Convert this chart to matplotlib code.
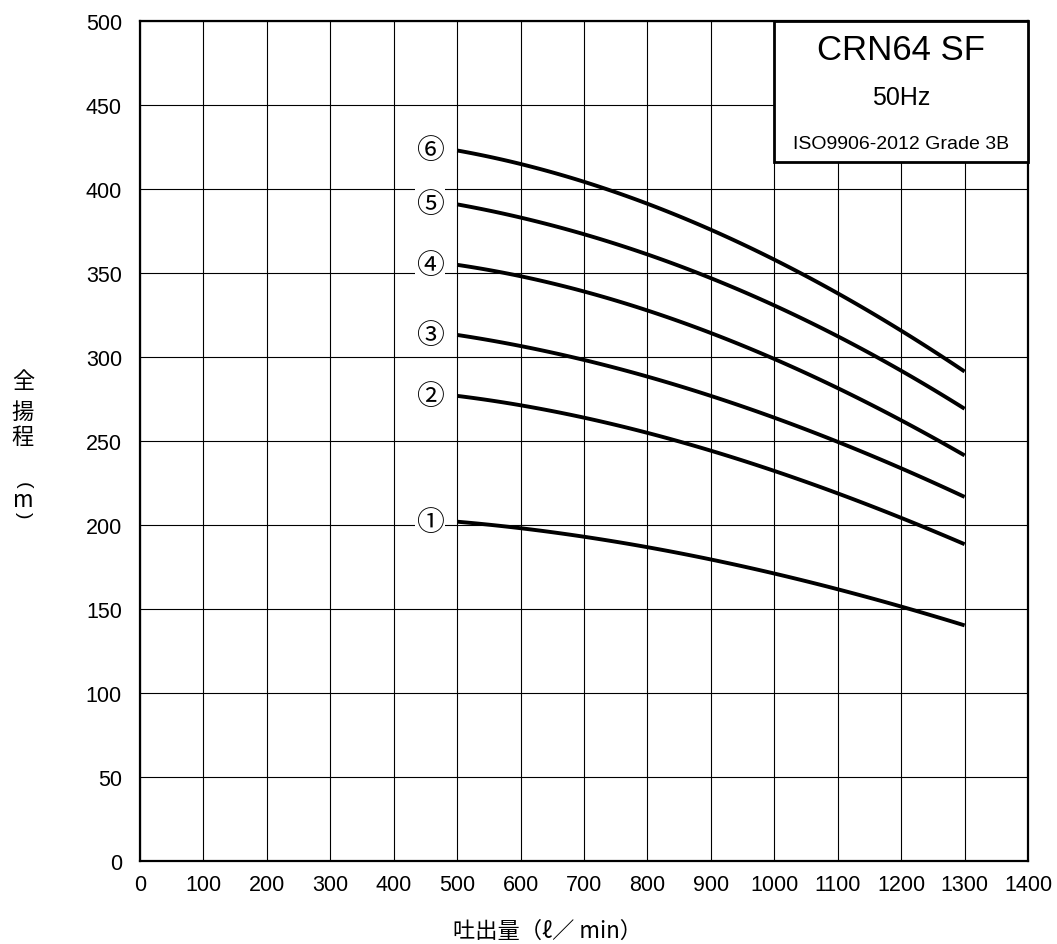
import numpy as np
import matplotlib
matplotlib.use('Agg')
import matplotlib.pyplot as plt

plt.rcParams['font.family'] = ['Liberation Sans', 'Noto Sans CJK JP', 'DejaVu Sans']

# Data
flow = [500, 600, 700, 800, 900, 1000, 1100, 1200, 1300]
head1 = [202, 198, 193, 187, 180, 170, 162, 152, 140]
head2 = [277, 271, 264, 255, 244, 232, 220, 203, 189]
head3 = [313, 307, 298, 288, 277, 264, 250, 233, 217]
head4 = [355, 348, 339, 327, 315, 299, 282, 261, 242]
head5 = [391, 383, 373, 360, 348, 331, 313, 290, 270]
head6 = [423, 415, 404, 391, 376, 358, 339, 314, 292]
curves = [head1, head2, head3, head4, head5, head6]
labels = ['①', '②', '③', '④', '⑤', '⑥']

fig = plt.figure(figsize=(10.57, 9.45), dpi=100)
ax = fig.add_axes([0.1325, 0.0878, 0.8401, 0.8889])
cjk = ['Noto Sans CJK JP', 'DejaVu Sans']

# smooth curves through the read points
for h, lab in zip(curves, labels):
    c = np.polyfit(flow, h, 3)
    xs = np.linspace(500, 1300, 100)
    ax.plot(xs, np.polyval(c, xs), color='k', lw=2.8, solid_capstyle='butt', zorder=3)
    ax.text(457, h[0], lab, fontsize=20, ha='center', va='center', family=cjk,
            bbox=dict(facecolor='white', edgecolor='none', pad=0.5), zorder=4)

ax.set_xlim(0, 1400)
ax.set_ylim(0, 500)
ax.set_xticks(np.arange(0, 1401, 100))
ax.set_yticks(np.arange(0, 501, 50))
ax.grid(True, color='k', lw=0.8)
ax.set_axisbelow(True)
ax.tick_params(length=0, labelsize=15.5)
ax.tick_params(axis='x', pad=9)
ax.tick_params(axis='y', pad=13)
for s in ax.spines.values():
    s.set_linewidth(1.6)

# title box
ax.add_patch(plt.Rectangle((1000, 416), 400, 84, facecolor='white', edgecolor='k',
                           lw=2, zorder=5, clip_on=False))
ax.text(1200, 483, 'CRN64 SF', fontsize=25, ha='center', va='center', zorder=6)
ax.text(1200, 455, '50Hz', fontsize=18, ha='center', va='center', zorder=6)
ax.text(1200, 427, 'ISO9906-2012 Grade 3B', fontsize=14, ha='center', va='center', zorder=6)

# axis labels
fig.text(0.518, 1 - 931 / 945, '吐出量（ℓ／ min）', fontsize=16, ha='center', va='center', family=cjk)
for ch, ypx in [('全', 382), ('揚', 412), ('程', 438), ('m', 501)]:
    fig.text(23 / 1057, 1 - ypx / 945, ch, fontsize=16, ha='center', va='center', family=cjk)
for ch, ypx in [('(', 485), (')', 515)]:
    fig.text(23 / 1057, 1 - ypx / 945, ch, fontsize=14, ha='center', va='center',
             rotation=-90, family=['Liberation Sans'])

fig.savefig('out.png', dpi=100)
